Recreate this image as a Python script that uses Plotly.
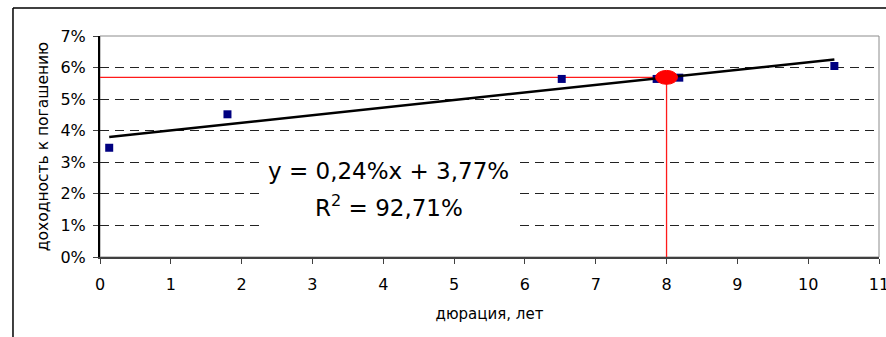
import plotly.graph_objects as go

# ---- data ----
duration = [0.13, 1.80, 6.52, 7.86, 8.18, 10.37]
yield_pct = [3.46, 4.52, 5.64, 5.64, 5.68, 6.05]
slope = 0.24
intercept = 3.77
r2_text = "92,71%"
target_x = 8
x_ticks = list(range(0, 12))
y_ticks = list(range(0, 8))
x_title = "дюрация, лет"
y_title = "доходность к погашению"

target_y = slope * target_x + intercept
trend_x = [min(duration), max(duration)]
trend_y = [slope * v + intercept for v in trend_x]

FONT = "DejaVu Sans"

fig = go.Figure()
# red guide lines
fig.add_trace(go.Scatter(x=[0, target_x, target_x], y=[target_y, target_y, 0],
                         mode="lines", line=dict(color="#FF1a1a", width=1.3),
                         hoverinfo="skip", showlegend=False))
# data points
fig.add_trace(go.Scatter(x=duration, y=yield_pct, mode="markers",
                         marker=dict(symbol="square", size=8, color="#000080"),
                         showlegend=False))
# trendline
fig.add_trace(go.Scatter(x=trend_x, y=trend_y, mode="lines",
                         line=dict(color="black", width=2.5), showlegend=False))

shapes = [
    # plot-area border (gray)
    dict(type="rect", xref="paper", yref="paper", x0=0, x1=1, y0=0, y1=1,
         line=dict(color="#8c8c8c", width=1), layer="below"),
    # white box behind the equation
    dict(type="rect", xref="x", yref="y", x0=2.30, x1=5.89, y0=0.3, y1=3.6,
         fillcolor="white", line=dict(width=0), layer="above"),
    # red target ellipse
    dict(type="circle", xref="x", yref="y",
         x0=target_x - 0.155, x1=target_x + 0.155,
         y0=target_y - 0.22, y1=target_y + 0.22,
         fillcolor="#FF0000", line=dict(color="#FF0000", width=1), layer="above"),
    # outer chart border (clipped by page)
    dict(type="line", xref="paper", yref="paper", x0=-0.1117, x1=1.2, y0=1.1267, y1=1.1267,
         line=dict(color="black", width=1.5)),
    dict(type="line", xref="paper", yref="paper", x0=-0.1117, x1=-0.1117, y0=1.1267, y1=-0.6,
         line=dict(color="black", width=1.5)),
]

annotations = [
    dict(x=4.08, y=2.72, xref="x", yref="y", text="y = 0,24%x + 3,77%",
         showarrow=False, font=dict(family=FONT, size=23, color="black")),
    dict(x=4.08, y=1.6, xref="x", yref="y", text="R<sup>2</sup> = " + r2_text,
         showarrow=False, font=dict(family=FONT, size=23, color="black")),
]

fig.update_layout(
    width=886, height=337,
    margin=dict(l=100, r=7, t=36, b=80, autoexpand=False),
    paper_bgcolor="white", plot_bgcolor="white",
    font=dict(family=FONT, color="black"),
    shapes=shapes, annotations=annotations,
    xaxis=dict(range=[0, 11], tickvals=x_ticks, ticktext=[str(v) for v in x_ticks],
               showgrid=False, zeroline=False, showline=True, linecolor="#404040", linewidth=2,
               ticks="outside", ticklen=5, tickcolor="#404040", automargin=False,
               ticklabeloverflow="allow",
               tickfont=dict(family=FONT, size=16), ticklabelstandoff=7,
               title=dict(text=x_title, font=dict(family=FONT, size=15), standoff=15)),
    yaxis=dict(range=[0, 7], tickvals=y_ticks, ticktext=[f"{v}%" for v in y_ticks],
               showgrid=True, gridcolor="#222222", gridwidth=1, griddash="9px,6px",
               zeroline=False, showline=True, linecolor="black", linewidth=2,
               ticks="outside", ticklen=5, tickcolor="#404040", automargin=False,
               ticklabeloverflow="allow",
               tickfont=dict(family=FONT, size=16), ticklabelstandoff=4,
               title=dict(text=y_title, font=dict(family=FONT, size=15.5), standoff=8)),
)

fig.write_html("out.html", config={"displayModeBar": False},
               post_script="document.body.style.margin='0';document.body.style.overflow='hidden';")
